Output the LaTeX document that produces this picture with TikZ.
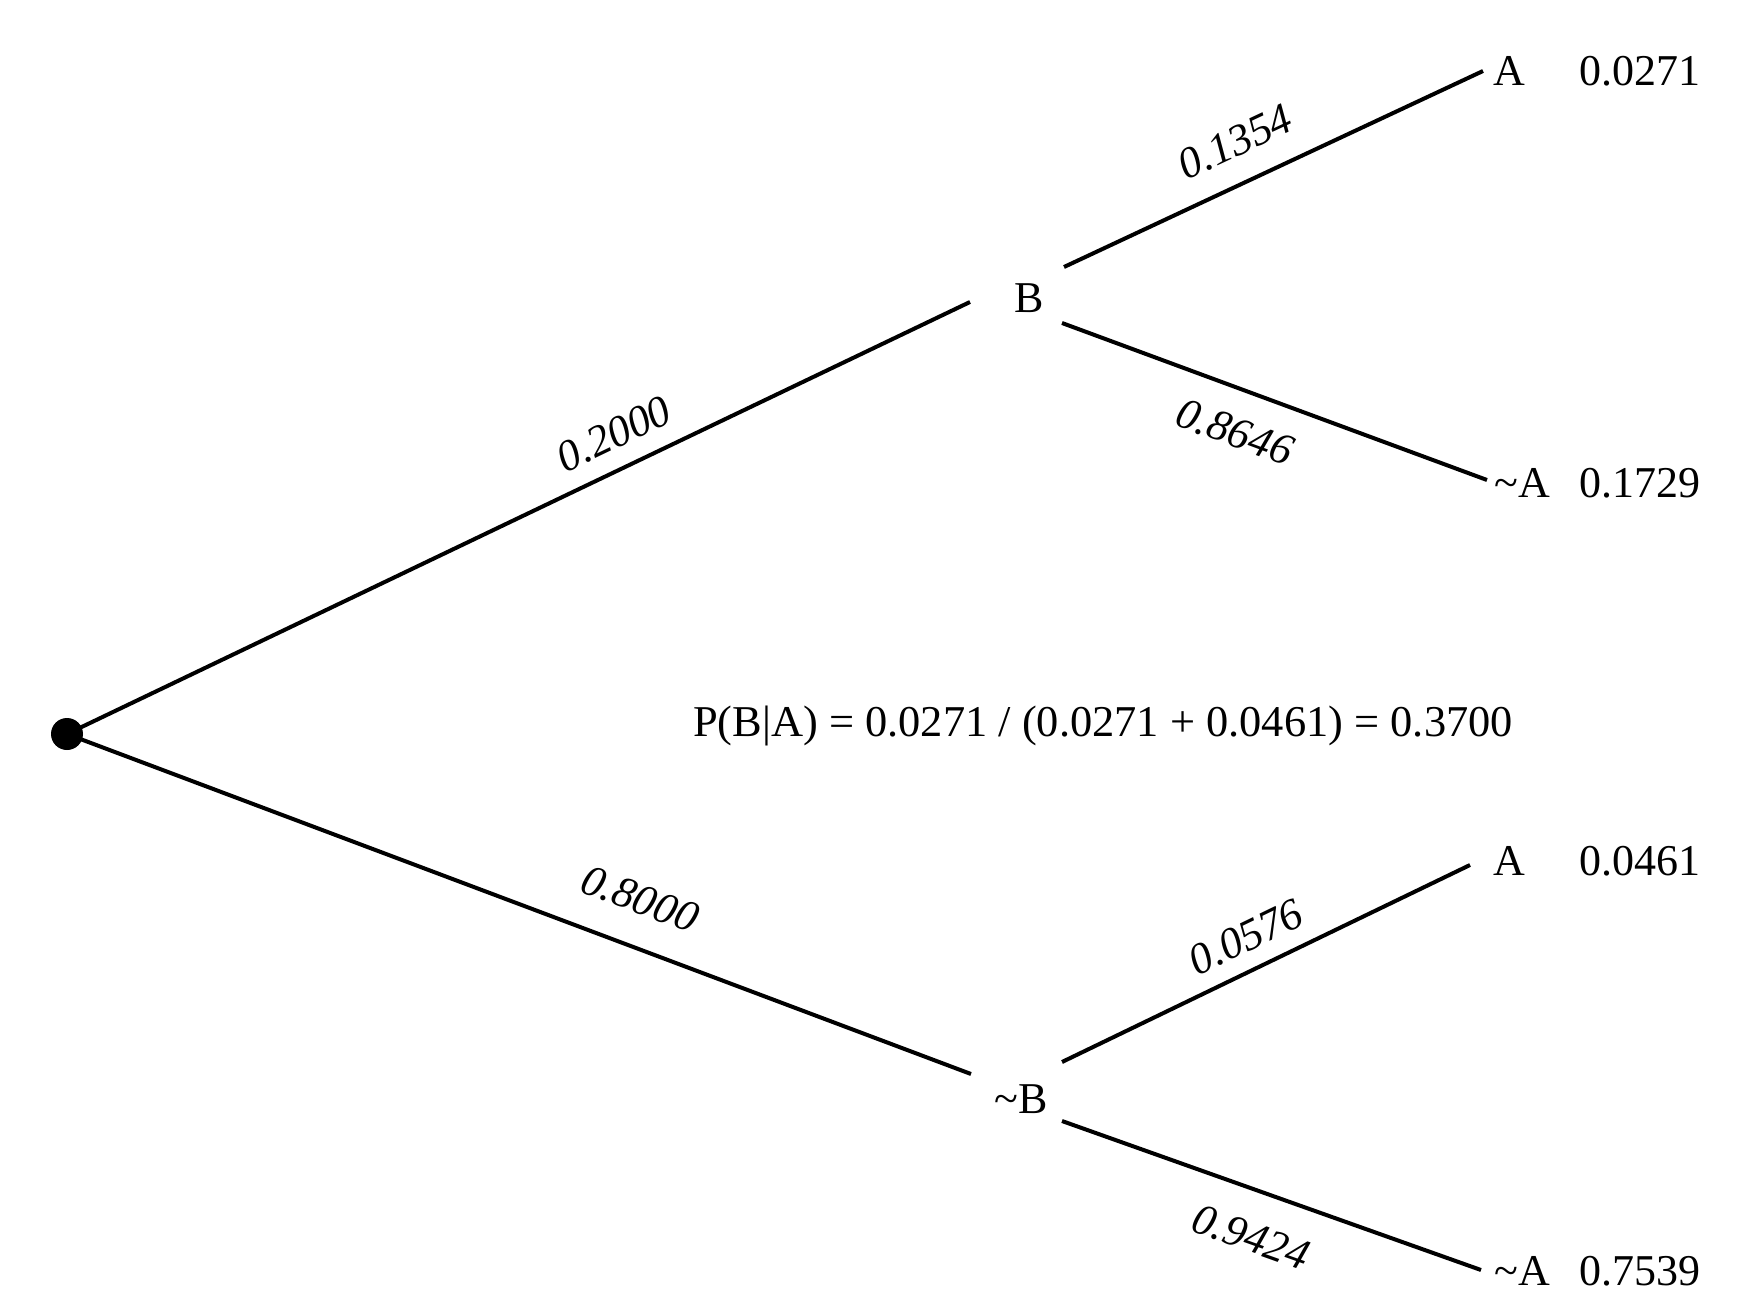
\documentclass[tikz,border=0pt]{standalone}
\usepackage{fontspec}
\setmainfont{Liberation Serif}
\begin{document}
\begin{tikzpicture}[x=0.5pt,y=-0.5pt,
  branch/.style={line width=2pt},
  lbl/.style={inner sep=0pt,font=\fontsize{22}{26}\selectfont},
  prob/.style={inner sep=0pt,font=\fontsize{22}{26}\selectfont\itshape}]
\useasboundingbox (0,0) rectangle (1744,1310);
% nodes
\node[circle,fill=black,minimum size=16pt,inner sep=0pt] (root) at (67,734) {};
\node[lbl] (B) at (1029,298) {B};
\node[lbl] (nB) at (1021,1099) {\char`\~B};
\node[lbl] (A1) at (1509,71) {A};
\node[lbl] (nA1) at (1522,483) {\char`\~A};
\node[lbl] (A2) at (1509,861) {A};
\node[lbl] (nA2) at (1522,1271) {\char`\~A};
\node[lbl] (j1) at (1640,71) {0.0271};
\node[lbl] (j2) at (1640,483) {0.1729};
\node[lbl] (j3) at (1640,861) {0.0461};
\node[lbl] (j4) at (1640,1271) {0.7539};
\node[lbl,xscale=1.01] (formula) at (1103,726) {P(B|A) = 0.0271 / (0.0271 + 0.0461) = 0.3700};
% connector end points
\coordinate (eB) at (970,302);
\coordinate (eBn) at (971,1074);
\coordinate (sB1) at (1064,267);
\coordinate (eA1) at (1483,71);
\coordinate (sB2) at (1062,323);
\coordinate (enA1) at (1487,480);
\coordinate (snB1) at (1062,1062);
\coordinate (eA2) at (1470,865);
\coordinate (snB2) at (1062,1121);
\coordinate (enA2) at (1481,1270);
% branches
\draw[branch] (root.center) -- (eB);
\draw[branch] (root.center) -- (eBn);
\draw[branch] (sB1) -- (eA1);
\draw[branch] (sB2) -- (enA1);
\draw[branch] (snB1) -- (eA2);
\draw[branch] (snB2) -- (enA2);
% branch probabilities
\node[prob,rotate=25.6] (p1) at (614,434) {0.2000};
\node[prob,rotate=-20.6] (p2) at (640,899) {0.8000};
\node[prob,rotate=25.1] (p3) at (1235,142) {0.1354};
\node[prob,rotate=-20.3] (p4) at (1235,432) {0.8646};
\node[prob,rotate=25.8] (p5) at (1246,937) {0.0576};
\node[prob,rotate=-19.6] (p6) at (1251,1237) {0.9424};
\end{tikzpicture}
\end{document}
